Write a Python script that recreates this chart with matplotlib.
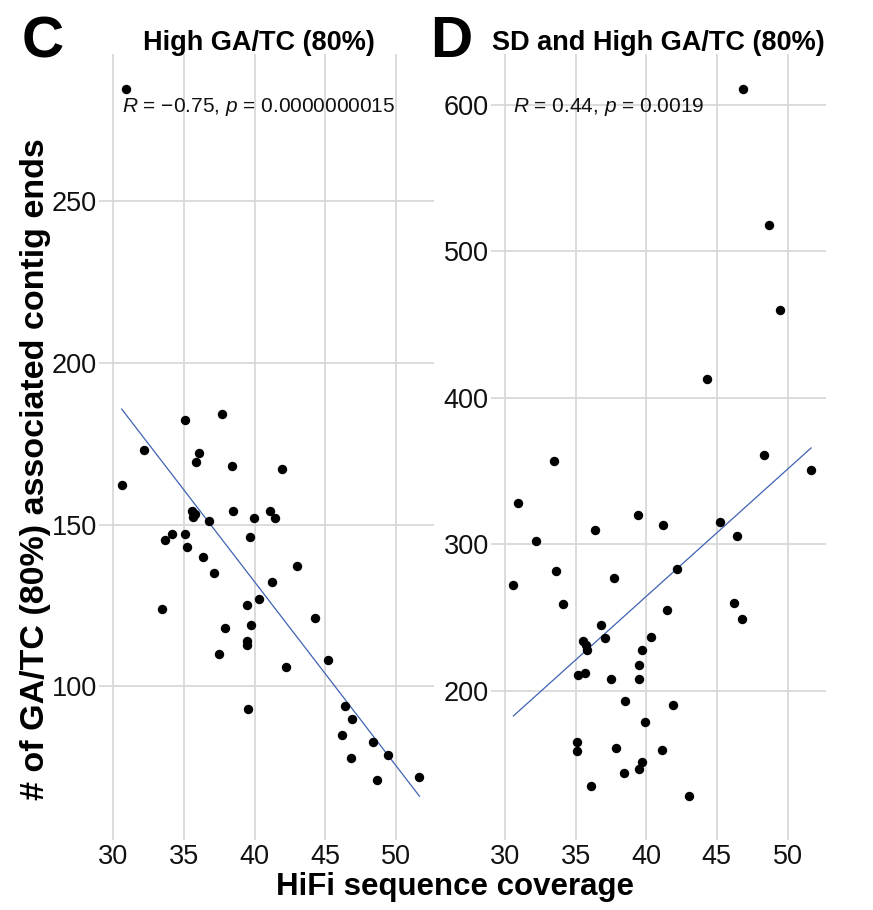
import numpy as np
import matplotlib
matplotlib.use("Agg")
import matplotlib.pyplot as plt
from matplotlib import transforms

plt.rcParams['font.family'] = ['Liberation Sans', 'DejaVu Sans']
plt.rcParams['mathtext.fontset'] = 'custom'
plt.rcParams['mathtext.rm'] = 'Liberation Sans'
plt.rcParams['mathtext.it'] = 'Liberation Sans:italic'
plt.rcParams['axes.unicode_minus'] = True

# ---- data ----
coverage = [30.60, 30.92, 32.17, 33.47, 33.65, 34.14, 35.10, 35.10, 35.20, 35.56,
            35.67, 35.76, 35.83, 36.09, 36.37, 36.80, 37.11, 37.48, 37.72, 37.89,
            38.43, 38.50, 39.44, 39.47, 39.50, 39.51, 39.71, 39.73, 39.93, 40.35,
            41.10, 41.22, 41.46, 41.91, 42.20, 43.04, 44.30, 45.23, 46.22, 46.42,
            46.81, 46.88, 48.36, 48.69, 49.48, 51.67]

high_gatc = [162.1, 284.6, 173.2, 124.0, 145.1, 147.1, 182.2, 147.1, 143.1, 154.2,
             152.2, 153.2, 169.2, 172.1, 140.1, 151.1, 135.0, 109.9, 184.2, 117.9,
             168.1, 154.1, 114.1, 125.0, 112.9, 92.9, 146.1, 119.0, 152.0, 127.0,
             154.2, 132.1, 152.0, 167.2, 106.0, 137.1, 121.0, 108.0, 84.85, 93.9,
             77.9, 89.9, 82.8, 70.9, 78.8, 71.9]

sd_high_gatc = [272.0, 328.0, 302.0, 356.9, 282.0, 259.0, 165.0, 158.8, 210.7, 234.2,
                211.9, 231.0, 227.8, 134.9, 310.0, 244.9, 235.8, 208.0, 277.0, 160.9,
                144.0, 192.8, 319.8, 217.8, 146.7, 208.0, 151.1, 227.8, 178.8, 236.9,
                159.7, 313.0, 254.9, 190.0, 282.9, 127.9, 412.9, 315.0, 259.9, 305.6,
                248.8, 610.7, 361.0, 517.8, 460.0, 350.9]

x_ticks = [30, 35, 40, 45, 50]
y_ticks_c = [100, 150, 200, 250]
y_ticks_d = [200, 300, 400, 500, 600]

titles = ["High GA/TC (80%)", "SD and High GA/TC (80%)"]
panel_labels = ["C", "D"]
stats = [r"$\it{R}$ = −0.75, $\it{p}$ = 0.0000000015",
         r"$\it{R}$ = 0.44, $\it{p}$ = 0.0019"]
xlabel = "HiFi sequence coverage"
ylabel = "# of GA/TC (80%) associated contig ends"

W, H = 873, 910
fig = plt.figure(figsize=(W / 100, H / 100), dpi=100)
fig.patch.set_facecolor('white')

def px_axes(x0, x1, y0, y1):
    return fig.add_axes([x0 / W, 1 - y1 / H, (x1 - x0) / W, (y1 - y0) / H])

ax_c = px_axes(106.8, 434.3, 54.0, 831.5)
ax_d = px_axes(498.5, 826.0, 54.0, 831.5)

grid_col = '#d9d9d9'
line_col = '#3f63b3'

for ax, yv, yt, st in [(ax_c, high_gatc, y_ticks_c, stats[0]),
                       (ax_d, sd_high_gatc, y_ticks_d, stats[1])]:
    x = np.array(coverage)
    y = np.array(yv)
    ax.scatter(x, y, s=46, color='black', zorder=3, linewidths=0)
    b, a = np.polyfit(x, y, 1)
    xs = np.array([x.min(), x.max()])
    ax.plot(xs, a + b * xs, color=line_col, lw=0.9, zorder=2)
    ax.margins(0.05)
    ax.set_xticks(x_ticks)
    ax.set_yticks(yt)
    ax.grid(True, color=grid_col, lw=1.3, zorder=0)
    ax.set_axisbelow(True)
    for sp in ax.spines.values():
        sp.set_visible(False)
    ax.tick_params(axis='both', which='major', length=5.5, width=1.3,
                   color=grid_col, labelsize=19.5, labelcolor='#111111', pad=1.5)
    ax.tick_params(axis='x', pad=3.5)
    trans = transforms.blended_transform_factory(ax.transData, ax.transAxes)
    ax.text(x.min(), 0.932, st, transform=trans, ha='left', va='center',
            fontsize=15, color='#111111')

# titles and panel labels
fig.text(259 / W, 1 - 43 / H, titles[0], ha='center', va='center',
         fontsize=19.5, fontweight='bold')
fig.text(658 / W, 1 - 43 / H, titles[1], ha='center', va='center',
         fontsize=19.5, fontweight='bold')
fig.text(22 / W, 1 - 42 / H, panel_labels[0], ha='left', va='center',
         fontsize=42, fontweight='bold')
fig.text(430 / W, 1 - 42 / H, panel_labels[1], ha='left', va='center',
         fontsize=42, fontweight='bold')

# axis labels
fig.text(455 / W, 1 - 887 / H, xlabel, ha='center', va='center',
         fontsize=22.5, fontweight='bold')
fig.text(36 / W, 1 - 469 / H, ylabel, ha='center', va='center', rotation=90,
         fontsize=24.5, fontweight='bold')

fig.savefig('out.png', dpi=100, facecolor='white')
